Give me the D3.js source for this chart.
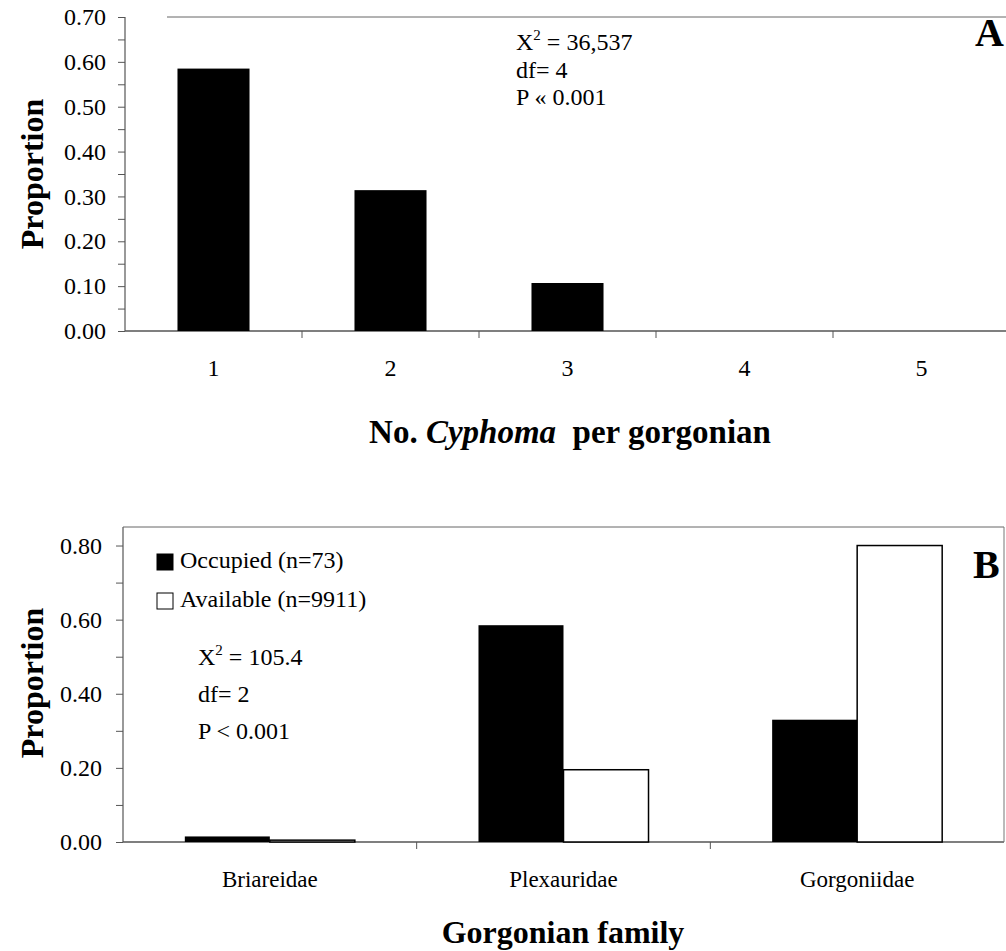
<!DOCTYPE html>
<html>
<head>
<meta charset="utf-8">
<script src="https://cdn.jsdelivr.net/npm/d3@7"></script>
<style>
  body { margin: 0; background: #fff; }
  svg text { font-family: "Liberation Serif", "Times New Roman", serif; fill: #000; }
</style>
</head>
<body>
<div id="chart"></div>
<script>
// Panel A data
var cyphomaCounts = ["1", "2", "3", "4", "5"];
var cyphomaProportion = [0.585, 0.314, 0.107, 0, 0];

// Panel B data
var families = ["Briareidae", "Plexauridae", "Gorgoniidae"];
var seriesNames = ["Occupied", "Available"];
var occupied = [0.015, 0.585, 0.33];
var available = [0.005, 0.195, 0.80];
var legendLabels = ["Occupied (n=73)", "Available (n=9911)"];

var annotA = ["36,537", "df= 4", "P \u00ab 0.001"];
var annotB = ["105.4", "df= 2", "P < 0.001"];

var svgWidth = 1006;
var svgHeight = 951;
var axisColor = "#555";

var svg = d3.select("#chart")
  .append("svg")
  .attr("width", svgWidth)
  .attr("height", svgHeight);

// ---------------- Panel A ----------------
var a = { left: 125, right: 1010, top: 17, bottom: 331 };

var xA = d3.scaleBand()
  .domain(cyphomaCounts)
  .range([a.left, a.right])
  .paddingInner(0.593)
  .paddingOuter(0.2965);

var yA = d3.scaleLinear()
  .domain([0, 0.7])
  .range([a.bottom, a.top]);

var gA = svg.append("g");

// minor + major ticks every 0.05
gA.append("g")
  .attr("transform", `translate(${a.left},0)`)
  .call(d3.axisLeft(yA).tickValues(d3.range(0, 0.7001, 0.05)).tickSize(7).tickFormat(""))
  .call(g => g.selectAll("line").attr("stroke", axisColor))
  .call(g => g.select(".domain").remove());

gA.append("g")
  .attr("transform", `translate(${a.left},0)`)
  .attr("font-family", "Liberation Serif")
  .call(d3.axisLeft(yA).tickValues(d3.range(0, 0.7001, 0.1)).tickSize(0).tickPadding(19).tickFormat(d3.format(".2f")))
  .call(g => g.select(".domain").remove())
  .call(g => g.selectAll("text").attr("font-size", 24).attr("fill", "#000"));

// axis lines and frame
gA.append("line").attr("x1", a.left).attr("x2", a.left).attr("y1", a.top).attr("y2", a.bottom)
  .attr("stroke", axisColor).attr("stroke-width", 1.2);
gA.append("line").attr("x1", a.left).attr("x2", svgWidth).attr("y1", a.bottom).attr("y2", a.bottom)
  .attr("stroke", axisColor).attr("stroke-width", 1.5);
gA.append("line").attr("x1", 167).attr("x2", svgWidth).attr("y1", a.top).attr("y2", a.top)
  .attr("stroke", "#666").attr("stroke-width", 1);

// x ticks at band boundaries
var stepA = xA.step();
var gapA = (stepA - xA.bandwidth()) / 2;
gA.selectAll(".xtick")
  .data(cyphomaCounts.slice(1))
  .enter()
  .append("line")
  .attr("x1", d => xA(d) - gapA)
  .attr("x2", d => xA(d) - gapA)
  .attr("y1", a.bottom)
  .attr("y2", a.bottom + 7)
  .attr("stroke", axisColor);

gA.selectAll(".xlab")
  .data(cyphomaCounts)
  .enter()
  .append("text")
  .attr("x", d => xA(d) + xA.bandwidth() / 2)
  .attr("y", 376)
  .attr("text-anchor", "middle")
  .attr("font-size", 24)
  .text(d => d);

gA.selectAll(".bar")
  .data(cyphomaProportion)
  .enter()
  .append("rect")
  .attr("x", (d, i) => xA(cyphomaCounts[i]))
  .attr("y", d => yA(d))
  .attr("width", xA.bandwidth())
  .attr("height", d => yA(0) - yA(d))
  .attr("fill", "#000");

// annotation
var annA = gA.append("g").attr("font-size", 24);
var chiA = annA.append("text").attr("x", 516).attr("y", 50);
chiA.append("tspan").text("X");
chiA.append("tspan").attr("font-size", 15).attr("dy", -10).text("2");
chiA.append("tspan").attr("dy", 10).text(" = " + annotA[0]);
annA.append("text").attr("x", 516).attr("y", 78).text(annotA[1]);
annA.append("text").attr("x", 516).attr("y", 105).text(annotA[2]);

gA.append("text")
  .attr("x", 975).attr("y", 46)
  .attr("font-size", 40).attr("font-weight", "bold")
  .text("A");

gA.append("text")
  .attr("transform", "translate(43,174) rotate(-90)")
  .attr("text-anchor", "middle")
  .attr("font-size", 32).attr("font-weight", "bold")
  .text("Proportion");

var titleA = gA.append("text")
  .attr("x", 570).attr("y", 443)
  .attr("text-anchor", "middle")
  .attr("font-size", 33).attr("font-weight", "bold");
titleA.append("tspan").text("No. ");
titleA.append("tspan").attr("font-style", "italic").text("Cyphoma");
titleA.append("tspan").attr("xml:space", "preserve").text("\u00a0 per gorgonian");

// ---------------- Panel B ----------------
var b = { left: 123, right: 1004, top: 527, bottom: 842 };

var xB = d3.scaleBand()
  .domain(families)
  .range([b.left, b.right])
  .paddingInner(0.421)
  .paddingOuter(0.2105);

var xSub = d3.scaleBand()
  .domain(seriesNames)
  .range([0, xB.bandwidth()]);

var yB = d3.scaleLinear()
  .domain([0, 0.85])
  .range([b.bottom, b.top]);

var gB = svg.append("g");

gB.append("g")
  .attr("transform", `translate(${b.left},0)`)
  .call(d3.axisLeft(yB).tickValues(d3.range(0, 0.8001, 0.1)).tickSize(7).tickFormat(""))
  .call(g => g.selectAll("line").attr("stroke", axisColor))
  .call(g => g.select(".domain").remove());

gB.append("g")
  .attr("transform", `translate(${b.left},0)`)
  .attr("font-family", "Liberation Serif")
  .call(d3.axisLeft(yB).tickValues(d3.range(0, 0.8001, 0.2)).tickSize(0).tickPadding(21).tickFormat(d3.format(".2f")))
  .call(g => g.select(".domain").remove())
  .call(g => g.selectAll("text").attr("font-size", 24).attr("fill", "#000"));

gB.append("line").attr("x1", b.left).attr("x2", b.left).attr("y1", b.top).attr("y2", b.bottom)
  .attr("stroke", axisColor).attr("stroke-width", 1.2);
gB.append("line").attr("x1", b.left).attr("x2", b.right).attr("y1", b.bottom).attr("y2", b.bottom)
  .attr("stroke", axisColor).attr("stroke-width", 1.5);
gB.append("line").attr("x1", b.left).attr("x2", b.right).attr("y1", b.top).attr("y2", b.top)
  .attr("stroke", "#666").attr("stroke-width", 1);
gB.append("line").attr("x1", b.right).attr("x2", b.right).attr("y1", b.top).attr("y2", b.bottom)
  .attr("stroke", "#777").attr("stroke-width", 1);

var gapB = (xB.step() - xB.bandwidth()) / 2;
gB.selectAll(".xtick")
  .data(families.slice(1))
  .enter()
  .append("line")
  .attr("x1", d => xB(d) - gapB)
  .attr("x2", d => xB(d) - gapB)
  .attr("y1", b.bottom)
  .attr("y2", b.bottom + 7)
  .attr("stroke", axisColor);

gB.selectAll(".xlab")
  .data(families)
  .enter()
  .append("text")
  .attr("x", d => xB(d) + xB.bandwidth() / 2)
  .attr("y", 887)
  .attr("text-anchor", "middle")
  .attr("font-size", 23)
  .text(d => d);

var groups = gB.selectAll(".grp")
  .data(families)
  .enter()
  .append("g")
  .attr("transform", d => `translate(${xB(d)},0)`);

groups.append("rect")
  .attr("x", xSub("Occupied"))
  .attr("y", (d, i) => yB(occupied[i]))
  .attr("width", xSub.bandwidth())
  .attr("height", (d, i) => yB(0) - yB(occupied[i]))
  .attr("fill", "#000");

groups.append("rect")
  .attr("x", xSub("Available"))
  .attr("y", (d, i) => yB(available[i]))
  .attr("width", xSub.bandwidth())
  .attr("height", (d, i) => yB(0) - yB(available[i]))
  .attr("fill", "#fff")
  .attr("stroke", "#000")
  .attr("stroke-width", 1.5);

// legend
var legend = gB.append("g");
legend.selectAll("rect")
  .data(legendLabels)
  .enter()
  .append("rect")
  .attr("x", 157)
  .attr("y", (d, i) => 554 + i * 39)
  .attr("width", 16)
  .attr("height", 16)
  .attr("fill", (d, i) => i === 0 ? "#000" : "#fff")
  .attr("stroke", "#000")
  .attr("stroke-width", 1);
legend.selectAll("text")
  .data(legendLabels)
  .enter()
  .append("text")
  .attr("x", 180)
  .attr("y", (d, i) => 568 + i * 39)
  .attr("font-size", 24)
  .text(d => d);

var annB = gB.append("g").attr("font-size", 24);
var chiB = annB.append("text").attr("x", 198).attr("y", 665);
chiB.append("tspan").text("X");
chiB.append("tspan").attr("font-size", 15).attr("dy", -10).text("2");
chiB.append("tspan").attr("dy", 10).text(" = " + annotB[0]);
annB.append("text").attr("x", 198).attr("y", 702).text(annotB[1]);
annB.append("text").attr("x", 198).attr("y", 739).text(annotB[2]);

gB.append("text")
  .attr("x", 973).attr("y", 578)
  .attr("font-size", 40).attr("font-weight", "bold")
  .text("B");

gB.append("text")
  .attr("transform", "translate(43,683) rotate(-90)")
  .attr("text-anchor", "middle")
  .attr("font-size", 32).attr("font-weight", "bold")
  .text("Proportion");

gB.append("text")
  .attr("x", 563).attr("y", 943)
  .attr("text-anchor", "middle")
  .attr("font-size", 32).attr("font-weight", "bold")
  .text("Gorgonian family");
</script>
</body>
</html>
